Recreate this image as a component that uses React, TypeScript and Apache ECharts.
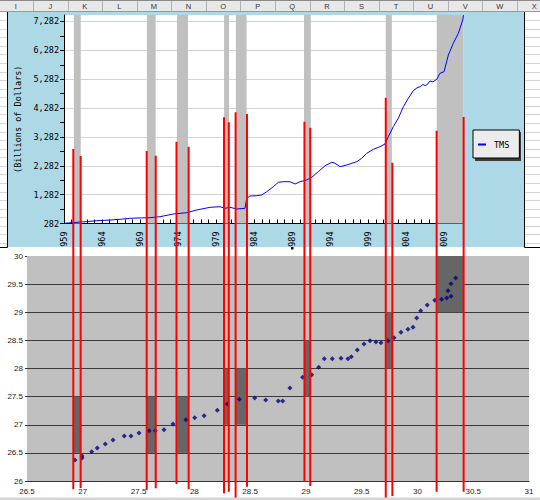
import React, { useEffect, useRef } from "react";
import * as echarts from "echarts";

// ---------- data ----------
const COLUMN_LETTERS = ["I", "J", "K", "L", "M", "N", "O", "P", "Q", "R", "S", "T", "U", "V", "W", "X"];

const TMS_NAME = "TMS";
const TMS_YEARS = [
  1959.0, 1960.0, 1961.0, 1962.0, 1963.3, 1965.05, 1966.5, 1967.68, 1969.0, 1970.31, 1971.62, 1973.37,
  1975.13, 1976.45, 1978.2, 1979.51, 1980.17, 1980.83, 1981.71, 1982.8, 1983.02, 1983.45, 1984.34, 1984.99,
  1985.65, 1986.52, 1987.18, 1987.83, 1988.71, 1989.37, 1990.03, 1990.91, 1991.57, 1992.43, 1993.32, 1994.2,
  1994.63, 1995.29, 1996.17, 1997.48, 1998.14, 1998.8, 1999.67, 2000.55, 2001.2, 2001.64, 2002.29, 2002.95,
  2003.61, 2004.27, 2004.92, 2005.4, 2005.81, 2006.2, 2006.5, 2006.69, 2007.12, 2007.5, 2008.0, 2008.43,
  2008.96, 2009.53, 2010.18, 2010.84, 2011.42, 2011.52,
];
const TMS_VALUES = [
  290, 310, 330, 348, 379, 403, 430, 462, 475, 483, 518, 611,
  656, 750, 843, 864, 809, 843, 784, 809, 1155, 1235, 1245, 1270,
  1384, 1557, 1710, 1730, 1730, 1650, 1730, 1789, 1883, 2077, 2285, 2403,
  2368, 2250, 2309, 2423, 2541, 2714, 2853, 2943, 3037, 3290, 3636, 3927,
  4329, 4620, 4884, 4980, 5022, 5100, 5060, 5081, 5220, 5190, 5278, 5486,
  5542, 6120, 6526, 6872, 7333, 7500,
];

// first labelled tick of the money axis (labels read 282, 1,282, 2,282 ...)
const Y_BASE = 282;
const Y_TOP = 7506;
const YEAR_MIN = 1959;
const YEAR_MAX = 2011.52;

// recession bands (decimal years)
const REC_START = [1960.3, 1969.9, 1973.85, 1980.05, 1981.6, 1990.55, 2001.3, 2008.0];
const REC_END = [1961.2, 1971.05, 1975.3, 1980.7, 1983.0, 1991.45, 2002.1, 2011.52];

// lower scatter
const LN_X = [
  26.93, 26.993, 26.993, 27.08, 27.13, 27.202, 27.271, 27.372, 27.432, 27.504, 27.594, 27.65, 27.728,
  27.809, 27.925, 28.003, 28.087, 28.206, 28.295, 28.403, 28.541, 28.64, 28.753, 28.792, 28.857, 28.971,
  29.052, 29.115, 29.165, 29.237, 29.315, 29.377, 29.407, 29.461, 29.521, 29.575, 29.628, 29.673, 29.736,
  29.79, 29.852, 29.915, 29.96, 29.993, 30.029, 30.088, 30.155, 30.217, 30.262, 30.301, 30.274, 30.301, 30.343,
];
const LN_Y = [
  26.373, 26.444, 26.409, 26.521, 26.587, 26.658, 26.729, 26.8, 26.8, 26.853, 26.894, 26.894, 26.912,
  27.013, 27.09, 27.125, 27.161, 27.257, 27.369, 27.452, 27.476, 27.44, 27.422, 27.422, 27.653, 27.844,
  27.89, 28.021, 28.174, 28.174, 28.181, 28.174, 28.21, 28.329, 28.436, 28.494, 28.471, 28.459, 28.494,
  28.548, 28.644, 28.697, 28.733, 28.898, 29.028, 29.129, 29.213, 29.23, 29.253, 29.284, 29.383, 29.508, 29.609,
];

// dark boxes in the lower chart
const BOX_X0 = [26.921, 27.576, 27.846, 28.266, 28.374, 28.99, 29.72, 30.177];
const BOX_X1 = [26.983, 27.652, 27.947, 28.309, 28.472, 29.037, 29.772, 30.41];
const BOX_Y0 = [26.5, 26.5, 26.5, 27, 27, 27.5, 28, 29];
const BOX_Y1 = [27.5, 27.5, 27.5, 28, 28, 28.5, 29, 30];

// red connector lines, in lower-chart units
const RED_X = [26.915, 26.981, 27.573, 27.654, 27.84, 27.949, 28.266, 28.309, 28.37, 28.472, 28.987, 29.039, 29.716, 29.775, 30.172, 30.414];
const RED_TOP = [31.902, 31.778, 31.867, 31.783, 32.032, 31.943, 32.466, 32.377, 32.555, 32.524, 32.388, 32.281, 32.814, 31.659, 32.228, 32.471];
const RED_BOTTOM = [25.852, 25.876, 25.84, 25.87, 25.947, 25.852, 25.781, 25.81, 25.55, 25.899, 25.988, 25.911, 25.55, 25.733, 25.81, 25.81];

const MONO = "DejaVu Sans Mono";
const SANS = "Liberation Sans";

function buildGraphics() {
  const els: any[] = [];
  // light-blue chart area of the upper chart
  els.push({ type: "rect", z: -20, shape: { x: 7.5, y: 11.5, width: 517, height: 235.5 }, style: { fill: "#add8e6" } });
  els.push({ type: "line", z: 30, shape: { x1: 7.5, y1: 11.5, x2: 7.5, y2: 247.5 }, style: { stroke: "#000", lineWidth: 1 } });
  els.push({ type: "line", z: 30, shape: { x1: 524.5, y1: 11.5, x2: 524.5, y2: 247.5 }, style: { stroke: "#000", lineWidth: 1 } });
  els.push({ type: "line", z: 30, shape: { x1: 0, y1: 247.5, x2: 7.5, y2: 247.5 }, style: { stroke: "#000", lineWidth: 1 } });
  els.push({ type: "line", z: 30, shape: { x1: 524.5, y1: 247.5, x2: 540, y2: 247.5 }, style: { stroke: "#000", lineWidth: 1 } });
  // spreadsheet rows in the margins
  for (let y = 11.6 + 8.57; y < 247; y += 8.57) {
    const yy = Math.round(y) + 0.5;
    els.push({ type: "line", z: 1, shape: { x1: 0, y1: yy, x2: 7, y2: yy }, style: { stroke: "#d4d4d4", lineWidth: 1 } });
    els.push({ type: "line", z: 1, shape: { x1: 525, y1: yy, x2: 540, y2: yy }, style: { stroke: "#d4d4d4", lineWidth: 1 } });
  }
  // column header
  els.push({ type: "rect", z: 30, shape: { x: 0, y: 0, width: 540, height: 11.5 }, style: { fill: "#e8e8e8" } });
  els.push({ type: "line", z: 31, shape: { x1: 0, y1: 0.5, x2: 540, y2: 0.5 }, style: { stroke: "#8a8a8a", lineWidth: 1 } });
  els.push({ type: "line", z: 31, shape: { x1: 0, y1: 11.5, x2: 540, y2: 11.5 }, style: { stroke: "#9a9a9a", lineWidth: 1 } });
  const firstSep = 33;
  const colW = 34.57;
  for (let i = 0; i < COLUMN_LETTERS.length; i++) {
    const sep = firstSep + i * colW;
    if (sep < 540) {
      els.push({ type: "line", z: 31, shape: { x1: Math.round(sep) + 0.5, y1: 1, x2: Math.round(sep) + 0.5, y2: 11 }, style: { stroke: "#b4b4b4", lineWidth: 1 } });
    }
    els.push({
      type: "text", z: 32, x: sep - colW / 2, y: 6.5,
      style: { text: COLUMN_LETTERS[i], fontFamily: SANS, fontSize: 7.5, fill: "#333", align: "center", verticalAlign: "middle" },
    });
  }
  // legend shadow
  els.push({ type: "rect", z: 5, shape: { x: 475, y: 132, width: 46, height: 29 }, style: { fill: "#3c3c3c" } });
  // selection handle under the axis
  els.push({ type: "rect", z: 30, shape: { x: 291, y: 247, width: 2.5, height: 2.5 }, style: { fill: "#000" } });
  // strip at the very bottom
  els.push({ type: "rect", z: 30, shape: { x: 0, y: 497.5, width: 540, height: 3 }, style: { fill: "#d6d6d6" } });
  return els;
}

export default function App() {
  const ref = useRef<HTMLDivElement>(null);

  useEffect(() => {
    document.body.style.margin = "0";
    if (!ref.current) return;
    const chart = echarts.init(ref.current, null, { renderer: "svg" });

    const lineData = TMS_YEARS.map((y, i) => [y, TMS_VALUES[i] - Y_BASE]);
    const scatterData = LN_X.map((x, i) => [x, LN_Y[i]]);
    const boxData = BOX_X0.map((x0, i) => [x0, BOX_X1[i], BOX_Y0[i], BOX_Y1[i]]);
    const redData = RED_X.map((x, i) => [x, RED_TOP[i], RED_BOTTOM[i]]);
    const bands = REC_START.map((s, i) => [{ xAxis: s }, { xAxis: REC_END[i] }]);

    const option: any = {
      animation: false,
      graphic: { elements: buildGraphics() },
      legend: {
        show: true,
        left: 473,
        top: 130,
        z: 10,
        orient: "vertical",
        padding: [10, 10, 9, 5],
        backgroundColor: "#ececec",
        borderColor: "#000",
        borderWidth: 1,
        itemWidth: 8,
        itemHeight: 2,
        icon: "rect",
        data: [TMS_NAME],
        textStyle: { fontFamily: MONO, fontSize: 8.5, color: "#000", padding: [0, 0, 0, 3] },
      },
      grid: [
        { left: 64, top: 15, right: 76.5, bottom: 276.5, show: true, backgroundColor: "#ffffff", borderWidth: 0 },
        { left: 27, top: 256, right: 11, bottom: 19, show: true, backgroundColor: "#c0c0c0", borderWidth: 0 },
      ],
      xAxis: [
        {
          gridIndex: 0,
          type: "value",
          min: YEAR_MIN,
          max: YEAR_MAX,
          interval: 1,
          axisLine: { show: true, lineStyle: { color: "#000", width: 1 } },
          axisTick: { show: true, inside: true, length: 4, lineStyle: { color: "#000" } },
          splitLine: { show: false },
          axisLabel: {
            rotate: 90,
            margin: 8,
            fontFamily: MONO,
            fontSize: 8.5,
            color: "#000",
            showMaxLabel: false,
            formatter: (v: number) =>
              Number.isInteger(v) && (v - YEAR_MIN) % 5 === 0 ? String(v).slice(1) : "",
          },
        },
        {
          gridIndex: 1,
          type: "value",
          min: 26.5,
          max: 31,
          interval: 0.5,
          axisLine: { show: true, lineStyle: { color: "#333", width: 1 } },
          axisTick: { show: false },
          splitLine: { show: false },
          axisLabel: { margin: 6, fontFamily: SANS, fontSize: 8, color: "#222" },
        },
      ],
      yAxis: [
        {
          gridIndex: 0,
          type: "value",
          min: 0,
          max: Y_TOP - Y_BASE,
          interval: 500,
          name: "(Billions of Dollars)",
          nameLocation: "middle",
          nameRotate: 90,
          nameGap: 40,
          nameTextStyle: { fontFamily: MONO, fontSize: 8.5, color: "#000" },
          axisLine: { show: true, lineStyle: { color: "#000", width: 1 } },
          axisTick: { show: true, length: 4, lineStyle: { color: "#000" } },
          splitLine: { show: true, lineStyle: { color: ["#d4d4d4", "rgba(0,0,0,0)"], width: 1 } },
          axisLabel: {
            margin: 5,
            fontFamily: MONO,
            fontSize: 8.5,
            color: "#000",
            showMaxLabel: false,
            formatter: (v: number) => (v % 1000 === 0 ? (v + Y_BASE).toLocaleString("en-US") : ""),
          },
        },
        {
          gridIndex: 1,
          type: "value",
          min: 26,
          max: 30,
          interval: 0.5,
          axisLine: { show: false },
          axisTick: { show: true, length: 2, lineStyle: { color: "#333" } },
          splitLine: { show: true, showMaxLine: false, lineStyle: { color: "#3a3a3a", width: 1 } },
          axisLabel: { margin: 4, fontFamily: SANS, fontSize: 8, color: "#222" },
        },
      ],
      series: [
        {
          name: TMS_NAME,
          type: "line",
          xAxisIndex: 0,
          yAxisIndex: 0,
          data: lineData,
          showSymbol: false,
          symbol: "none",
          color: "#0000ff",
          lineStyle: { color: "#0000ff", width: 1 },
          z: 3,
          markArea: { silent: true, itemStyle: { color: "#c0c0c0", opacity: 1 }, data: bands },
        },
        {
          name: "boxes",
          type: "custom",
          xAxisIndex: 1,
          yAxisIndex: 1,
          z: 2,
          silent: true,
          encode: { x: [0, 1], y: [2, 3] },
          data: boxData,
          renderItem: (params: any, api: any) => {
            const p0 = api.coord([api.value(0), api.value(3)]);
            const p1 = api.coord([api.value(1), api.value(2)]);
            return {
              type: "rect",
              shape: { x: p0[0], y: p0[1], width: p1[0] - p0[0], height: p1[1] - p0[1] },
              style: { fill: "#666666" },
            };
          },
        },
        {
          name: "ln",
          type: "scatter",
          xAxisIndex: 1,
          yAxisIndex: 1,
          z: 4,
          symbol: "diamond",
          symbolSize: 5,
          itemStyle: { color: "#000080" },
          data: scatterData,
        },
        {
          name: "links",
          type: "custom",
          xAxisIndex: 1,
          yAxisIndex: 1,
          z: 20,
          clip: false,
          silent: true,
          encode: { x: 0, y: [1, 2] },
          data: redData,
          renderItem: (params: any, api: any) => {
            const a = api.coord([api.value(0), api.value(1)]);
            const b = api.coord([api.value(0), api.value(2)]);
            return {
              type: "line",
              shape: { x1: a[0], y1: a[1], x2: b[0], y2: b[1] },
              style: { stroke: "#ff0000", lineWidth: 2 },
            };
          },
        },
      ],
    };

    chart.setOption(option);
    return () => chart.dispose();
  }, []);

  return <div ref={ref} style={{ width: 540, height: 500 }} />;
}
